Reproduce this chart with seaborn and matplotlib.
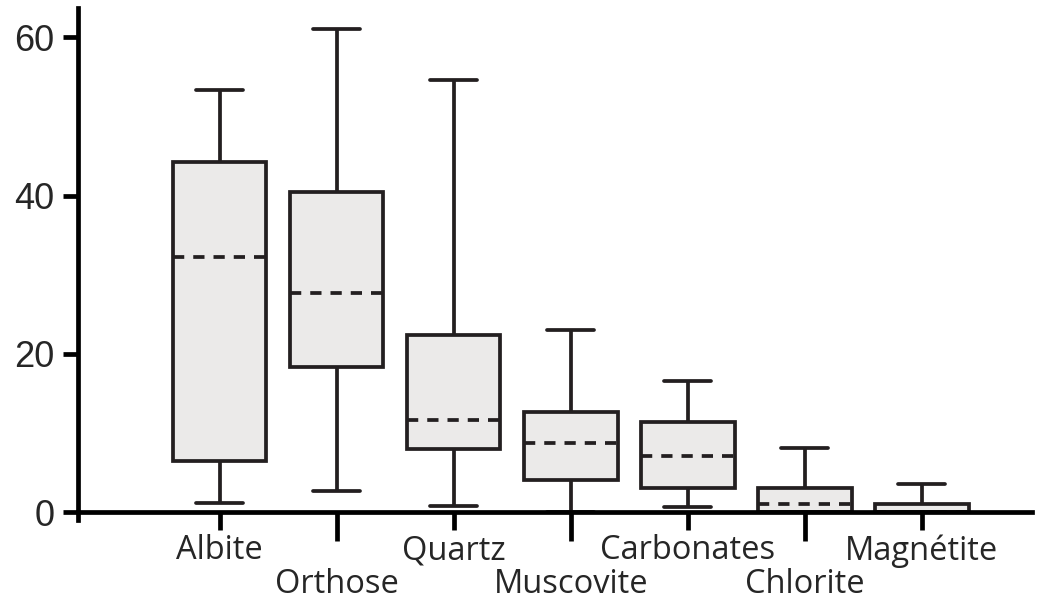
import matplotlib
matplotlib.use("Agg")
import matplotlib.pyplot as plt
import seaborn as sns
import pandas as pd
import numpy as np

categories = ["Albite", "Orthose", "Quartz", "Muscovite", "Carbonates", "Chlorite", "Magnétite"]
# five-number summaries: min, Q1, median, Q3, max
mins    = [1.1, 2.7, 0.8, 0.0, 0.7, 0.0, 0.0]
q1s     = [6.4, 18.4, 8.0, 4.0, 3.0, 0.0, 0.0]
medians = [32.2, 27.7, 11.7, 8.7, 7.1, 1.0, 0.0]
q3s     = [44.3, 40.5, 22.4, 12.6, 11.4, 3.1, 1.0]
maxs    = [53.3, 61.0, 54.6, 23.0, 16.6, 8.1, 3.5]
yticks = [0, 20, 40, 60]

rows = []
for c, a, b, m, d, e in zip(categories, mins, q1s, medians, q3s, maxs):
    for v in (a, b, m, d, e):
        rows.append({"mineral": c, "value": v})
df = pd.DataFrame(rows)

sns.set_style("white")
edge = "#231F20"
fill = "#EBEAE9"
lw = 2.7

fig = plt.figure(figsize=(10.37, 6.03), dpi=100)
ax = fig.add_axes([0.0752, 0.1376, 0.9198, 0.8491])

sns.boxplot(data=df, x="mineral", y="value", order=categories, ax=ax,
            whis=np.inf, width=0.8, color=fill, linecolor=edge, linewidth=lw,
            showfliers=False,
            boxprops=dict(facecolor=fill, edgecolor=edge, linewidth=lw),
            whiskerprops=dict(color=edge, linewidth=lw),
            capprops=dict(color=edge, linewidth=lw),
            medianprops=dict(color=edge, linewidth=lw, linestyle=(0, (3.0, 2.4))))

ax.set_xlim(-1.21, 6.94)
ax.set_ylim(-1.0, 63.7)
ax.set_xlabel("")
ax.set_ylabel("")

for s in ("top", "right"):
    ax.spines[s].set_visible(False)
ax.spines["bottom"].set_position(("data", 0))
for s in ("bottom", "left"):
    ax.spines[s].set_linewidth(3.4)
    ax.spines[s].set_color("black")
    ax.spines[s].set_zorder(5)

ax.set_yticks(yticks)
ax.set_yticklabels([str(t) for t in yticks], family="Liberation Sans", fontsize=26)
ax.tick_params(axis="y", which="major", direction="out", length=11, width=3.4,
               pad=6, color="black", left=True)

even = list(range(0, len(categories), 2))
odd = list(range(1, len(categories), 2))
ax.set_xticks(even)
ax.set_xticklabels([categories[i] for i in even], family="Open Sans", fontsize=23.5)
ax.set_xticks(odd, minor=True)
ax.set_xticklabels([categories[i] for i in odd], minor=True, family="Open Sans", fontsize=23.5)
ax.tick_params(axis="x", which="major", direction="out", length=13, width=3.4,
               pad=3, color="black", bottom=True)
ax.tick_params(axis="x", which="minor", direction="out", length=21, width=3.4,
               pad=19, color="black", bottom=True)

fig.savefig("out.png", dpi=100)
